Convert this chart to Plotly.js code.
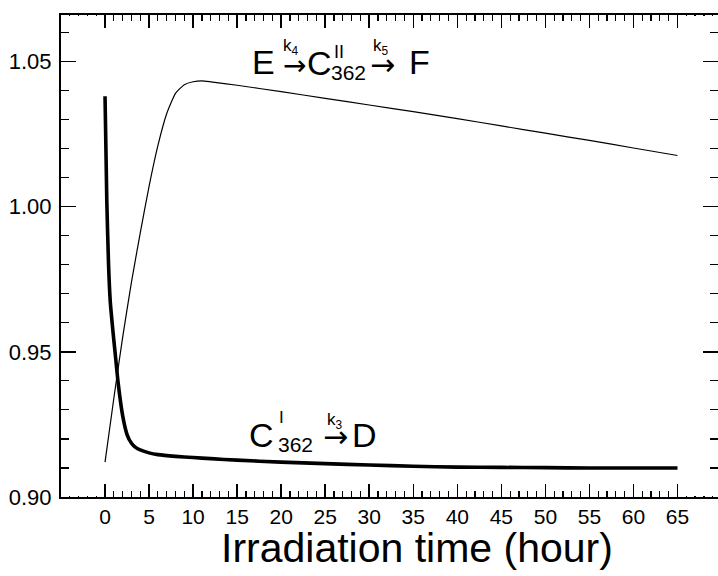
<!DOCTYPE html>
<html>
<head>
<meta charset="utf-8">
<script src="https://cdn.plot.ly/plotly-3.0.1.min.js"></script>
<style>html,body{margin:0;padding:0;background:#fff;}#chart{width:718px;height:576px;}</style>
</head>
<body>
<div id="chart"></div>
<script>
// ---- data ----
const tII = [0, 1, 2, 3, 4, 5, 6, 7, 8, 9, 10, 11, 12, 15, 20, 25, 30, 35, 40, 45, 50, 55, 60, 65];
const yII = [0.912, 0.934, 0.955, 0.974, 0.991, 1.007, 1.021, 1.032, 1.0390, 1.0420, 1.0430, 1.0433, 1.0430,
             1.0418, 1.0396, 1.0373, 1.0350, 1.0327, 1.0303, 1.0278, 1.0253, 1.0228, 1.0202, 1.0176];

const tI = [0, 0.2, 0.4, 0.6, 0.9, 1.2, 1.5, 2, 2.5, 3, 3.5, 4, 5, 6, 8, 10, 12, 15, 20, 25, 30, 35, 40, 45, 50, 55, 60, 65];
const yI = [1.038, 1.002, 0.980, 0.967, 0.957, 0.948, 0.939, 0.928, 0.9215, 0.9185, 0.917, 0.9162, 0.9152, 0.9146,
            0.9140, 0.9136, 0.9132, 0.9127, 0.9120, 0.9115, 0.9110, 0.9106, 0.9103, 0.9102, 0.9101, 0.9100, 0.9100, 0.9100];

const xMajor = [0, 5, 10, 15, 20, 25, 30, 35, 40, 45, 50, 55, 60, 65];
const yMajor = [0.90, 0.95, 1.00, 1.05];
const yMajorText = ['0.90', '0.95', '1.00', '1.05'];
const xTitle = 'Irradiation time (hour)';

// ---- layout helpers (pixel -> paper) ----
const W = 718, H = 576, L = 61, R = 0, T = 15, B = 79;
const PW = W - L - R, PH = H - T - B;
const px = v => (v - L) / PW;
const py = v => (H - B - v) / PH;
const FONT = '"Liberation Sans", Arial, Helvetica, sans-serif';
const AFONT = '"DejaVu Sans", sans-serif';
const XR = [-5, 69.6];
const XT = [xMajor[0], xMajor[xMajor.length - 1]]; // minor ticks only inside this span

function lab(text, x, y, size, anchor, fam) {
  return {text: text, xref: 'paper', yref: 'paper', x: px(x), y: py(y),
          xanchor: anchor || 'left', yanchor: 'middle', showarrow: false, borderpad: 0,
          font: {family: fam || FONT, size: size, color: '#000'}};
}

const annotations = [
  // top reaction: E -k4-> C(II)362 -k5-> F
  lab('E', 251, 62.5, 34),
  lab('k<sub>4</sub>', 282, 47, 17),
  lab('→', 282, 66, 28, 'left', AFONT),
  lab('C', 306, 63.5, 34),
  lab('II', 333, 52, 18),
  lab('362', 330, 72, 21),
  lab('→', 369, 65, 30, 'left', AFONT),
  lab('k<sub>5</sub>', 372, 47, 17),
  lab('F', 408, 62.5, 34),
  // bottom reaction: C(I)362 -k3-> D
  lab('C', 248, 434.5, 34),
  lab('I', 278, 417.5, 17),
  lab('362', 277, 445, 21),
  lab('→', 322, 436, 30, 'left', AFONT),
  lab('k<sub>3</sub>', 326, 421, 17),
  lab('D', 351, 434.5, 34),
  // x axis title
  lab(xTitle, 417, 548, 41, 'center')
];

// white masks that hide the minor x ticks falling outside the 0-65 h span (bottom and top edges)
function mask(x0, x1, y0, y1) {
  return {type: 'rect', layer: 'above', xref: 'x', yref: 'paper', x0: x0, x1: x1, y0: py(y0), y1: py(y1),
          fillcolor: '#fff', line: {width: 0}};
}
const shapes = [
  mask(XR[0] + 0.4, XT[0] - 0.4, 496, 488),
  mask(XT[1] + 0.4, XR[1] - 0.2, 496, 488),
  mask(XR[0] + 0.4, XT[0] - 0.4, 16, 24),
  mask(XT[1] + 0.4, XR[1] - 0.2, 16, 24)
];

const traces = [
  {x: tII, y: yII, type: 'scatter', mode: 'lines',
   line: {color: '#000', width: 1.2, shape: 'spline', smoothing: 0.5}, hoverinfo: 'skip'},
  {x: tI, y: yI, type: 'scatter', mode: 'lines',
   line: {color: '#000', width: 3.6, shape: 'spline', smoothing: 0.5}, hoverinfo: 'skip'}
];

const layout = {
  width: W, height: H,
  margin: {l: L, r: R, t: T, b: B, pad: 0},
  paper_bgcolor: '#fff', plot_bgcolor: '#fff',
  showlegend: false,
  font: {family: FONT, color: '#000'},
  xaxis: {
    range: XR, tickmode: 'array', tickvals: xMajor,
    ticks: 'inside', ticklen: 13, tickwidth: 1.5, tickcolor: '#000',
    showline: true, linewidth: 2, linecolor: '#000', mirror: 'ticks',
    showgrid: false, zeroline: false,
    tickfont: {family: FONT, size: 21, color: '#000'},
    minor: {tickmode: 'linear', tick0: 0, dtick: 1, ticks: 'inside', ticklen: 6, tickwidth: 1.2, tickcolor: '#000', showgrid: false}
  },
  yaxis: {
    range: [0.9, 1.066], tickmode: 'array', tickvals: yMajor, ticktext: yMajorText,
    ticks: 'inside', ticklen: 15, tickwidth: 1.5, tickcolor: '#000',
    showline: true, linewidth: 2, linecolor: '#000', mirror: 'ticks',
    showgrid: false, zeroline: false, ticklabelstandoff: 3,
    tickfont: {family: FONT, size: 22, color: '#000'},
    minor: {tickmode: 'linear', tick0: 0.9, dtick: 0.01, ticks: 'inside', ticklen: 8, tickwidth: 1.2, tickcolor: '#000', showgrid: false}
  },
  shapes: shapes,
  annotations: annotations
};

Plotly.newPlot('chart', traces, layout, {staticPlot: true, displayModeBar: false});
</script>
</body>
</html>
